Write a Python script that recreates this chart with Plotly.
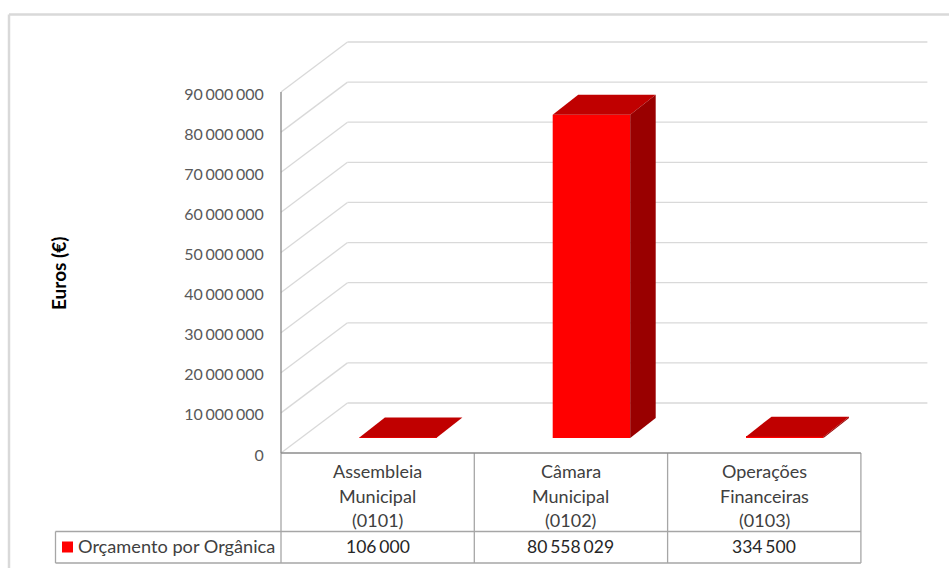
import plotly.graph_objects as go

categories = [["Assembleia", "Municipal", "(0101)"],
              ["Câmara", "Municipal", "(0102)"],
              ["Operações", "Financeiras", "(0103)"]]
series_name = "Orçamento por Orgânica"
values = [106000, 80558029, 334500]
value_labels = ["106\u2006000", "80\u2006558\u2006029", "334\u2006500"]
tick_values = [0, 10e6, 20e6, 30e6, 40e6, 50e6, 60e6, 70e6, 80e6, 90e6]
tick_labels = ["0", "10\u2006000\u2006000", "20\u2006000\u2006000", "30\u2006000\u2006000", "40\u2006000\u2006000",
               "50\u2006000\u2006000", "60\u2006000\u2006000", "70\u2006000\u2006000", "80\u2006000\u2006000", "90\u2006000\u2006000"]

W, H = 949, 568
X0, YB = 281.0, 453.0          # pixel of category origin and of value 0
UX = 193.3                     # pixels per category
UY = 90e6 / 361.0              # value per pixel
FONT = "Lato"


def fx(px):
    return (px - X0) / UX


def fy(py):
    return (YB - py) * UY


def paper_y(py):
    return 1 - py / H


WALL_DX, WALL_DY = 66.5 / UX, 50 * UY
BAR_W = 77.5 / UX
BAR_SHIFT = 20.5 / UX
BASE = 15 * UY
DEPTH_X, DEPTH_Y = 25.5 / UX, 20 * UY
GRID = "#d9d9d9"
TABLE = "#a6a6a6"

fig = go.Figure()

centers = [i + 0.5 + BAR_SHIFT for i in range(len(values))]

fig.add_trace(go.Bar(x=centers, y=values, base=[BASE] * len(values), width=BAR_W,
                     marker=dict(color="#ff0000", line=dict(width=0)),
                     hoverinfo="skip", showlegend=False))

for c, v in zip(centers, values):
    l, r = c - BAR_W / 2, c + BAR_W / 2
    b, t = BASE, BASE + v
    fig.add_trace(go.Scatter(
        x=[l, r, r + DEPTH_X, l + DEPTH_X, l], y=[t, t, t + DEPTH_Y, t + DEPTH_Y, t],
        mode="lines", fill="toself", fillcolor="#c00000", line=dict(width=0),
        hoverinfo="skip", showlegend=False))
    fig.add_trace(go.Scatter(
        x=[r, r + DEPTH_X, r + DEPTH_X, r, r], y=[b, b + DEPTH_Y, t + DEPTH_Y, t, b],
        mode="lines", fill="toself", fillcolor="#990000", line=dict(width=0),
        hoverinfo="skip", showlegend=False))

shapes = []


def line(x0, y0, x1, y1, color, width, layer="below", ref="data"):
    if ref == "data":
        shapes.append(dict(type="line", xref="x", yref="y", x0=x0, y0=y0, x1=x1, y1=y1,
                           line=dict(color=color, width=width), layer=layer))
    else:
        shapes.append(dict(type="line", xref="paper", yref="paper",
                           x0=x0 / W, y0=paper_y(y0), x1=x1 / W, y1=paper_y(y1),
                           line=dict(color=color, width=width), layer=layer))


n = len(values)
for v in tick_values:
    line(0, v, WALL_DX, v + WALL_DY, GRID, 1.3)
    line(WALL_DX, v + WALL_DY, n + WALL_DX, v + WALL_DY, GRID, 1.3)

# value axis line
line(0, 0, 0, tick_values[-1], "#868686", 1.3, layer="above")

# data table
for i in range(n + 1):
    line(i, 0, i, fy(563), TABLE, 1.3, layer="above")
line(0, 0, n, 0, "#8c8c8c", 1.3, layer="above")
line(fx(55.5), fy(531.5), n, fy(531.5), TABLE, 1.3, layer="above")
line(fx(55.5), fy(563), n, fy(563), TABLE, 1.3, layer="above")
line(fx(55.5), fy(531.5), fx(55.5), fy(563), TABLE, 1.3, layer="above")

# outer chart frame
line(9, 14.5, W, 14.5, GRID, 2.5, layer="below", ref="paper")
line(9, 14.5, 9, H, GRID, 2.5, layer="below", ref="paper")

# legend key
shapes.append(dict(type="rect", xref="paper", yref="paper",
                   x0=62 / W, x1=73 / W, y0=paper_y(552.5), y1=paper_y(541.5),
                   fillcolor="#ff0000", line=dict(width=0), layer="above"))

annotations = []
for i, lines in enumerate(categories):
    for txt, py in zip(lines, [471, 496, 520]):
        annotations.append(dict(x=i + 0.5, xref="x", y=paper_y(py), yref="paper", text=txt,
                                showarrow=False, xanchor="center", yanchor="middle",
                                font=dict(family=FONT, size=18, color="#404040")))
for i, txt in enumerate(value_labels):
    annotations.append(dict(x=i + 0.5, xref="x", y=paper_y(546.5), yref="paper", text=txt,
                            showarrow=False, xanchor="center", yanchor="middle",
                            font=dict(family=FONT, size=17.5, color="#262626")))
annotations.append(dict(x=76 / W, xref="paper", y=paper_y(545.5), yref="paper", text=series_name,
                        showarrow=False, xanchor="left", yanchor="middle",
                        font=dict(family=FONT, size=18.2, color="#404040")))
annotations.append(dict(x=58 / W, xref="paper", y=paper_y(274), yref="paper", text="<b>Euros (€)</b>",
                        showarrow=False, textangle=-90, xanchor="center", yanchor="middle",
                        font=dict(family=FONT, size=19, color="#000000")))

fig.update_layout(
    width=W, height=H, margin=dict(l=0, r=0, t=0, b=0),
    paper_bgcolor="white", plot_bgcolor="white", showlegend=False, hovermode=False,
    shapes=shapes, annotations=annotations,
    xaxis=dict(range=[fx(0), fx(W)], visible=False, fixedrange=True),
    yaxis=dict(range=[fy(H), fy(0)], anchor="free", position=X0 / W, side="left",
               tickmode="array", tickvals=tick_values, ticktext=tick_labels,
               showgrid=False, zeroline=False, showline=False, ticks="outside",
               ticklen=14, tickcolor="rgba(0,0,0,0)", fixedrange=True, ticklabelshift=2,
               tickfont=dict(family=FONT, size=16, color="#595959")),
)

fig.write_html("out.html", post_script="document.body.style.margin='0';document.body.style.overflow='hidden';",
               config={"displayModeBar": False})
